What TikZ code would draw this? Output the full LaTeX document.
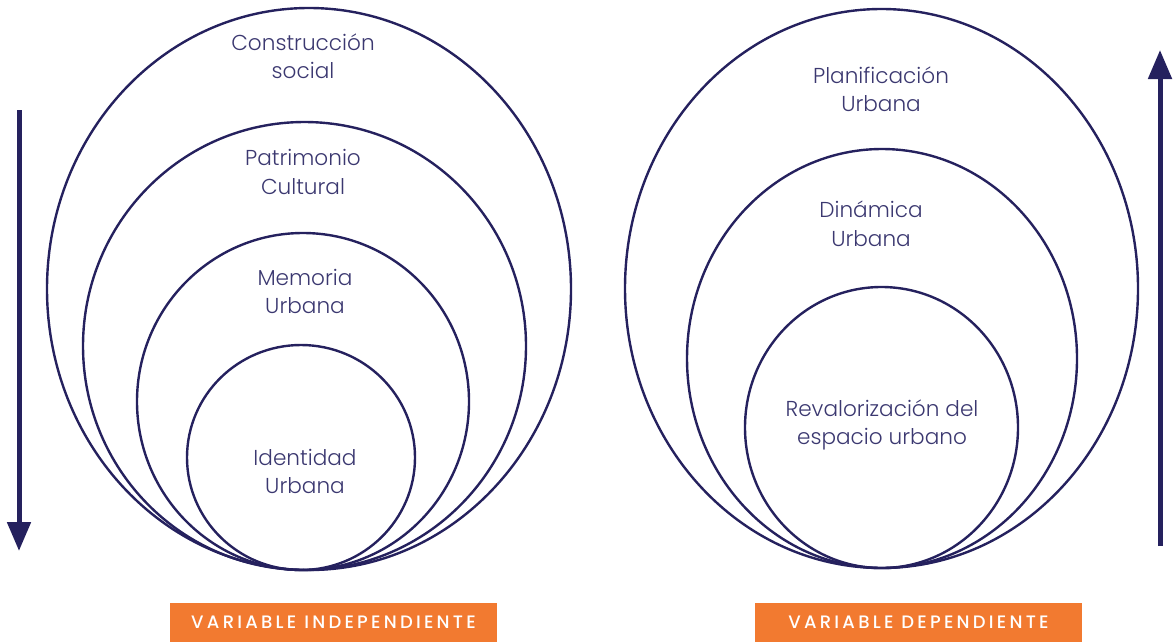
\documentclass[tikz,border=0pt]{standalone}
\usepackage{fontspec}
\IfFontExistsTF{Poppins Light}{\setmainfont{Poppins Light}}{\setmainfont{Poppins}}
\IfFontExistsTF{Poppins Medium}{\newfontfamily\labelfont[LetterSpace=18]{Poppins Medium}}{\newfontfamily\labelfont[LetterSpace=18]{Poppins}}
\usetikzlibrary{shapes.geometric,arrows.meta}
\definecolor{navy}{HTML}{25215E}
\definecolor{txt}{HTML}{3B3870}
\definecolor{orangebox}{HTML}{F27A30}
\tikzset{
  ring/.style={draw=navy, line width=2.4pt, ellipse, inner sep=0pt, minimum width=#1},
  lbl/.style={text=txt, font=\fontsize{21.6}{28.5}\selectfont, align=center, inner sep=0pt},
  varbox/.style={fill=orangebox, text=white, minimum width=327pt, minimum height=39pt, inner sep=0pt, font=\labelfont\fontsize{18}{20}\selectfont},
  bigarrow/.style={draw=navy, line width=5pt, -{Triangle[width=23pt,length=29pt]}}
}
\begin{document}
\begin{tikzpicture}[x=1pt,y=-1pt]
\useasboundingbox (0,0) rectangle (1174,643);
% left group
\node[ring=524pt, minimum height=562pt] (c1) at (309,289) {};
\node[ring=443pt, minimum height=448pt] (c2) at (304.5,346) {};
\node[ring=332pt, minimum height=337pt] (c3) at (303,401.5) {};
\node[ring=228pt, minimum height=225pt] (c4) at (301,457.5) {};
% right group
\node[ring=513pt, minimum height=559pt] (d1) at (881.5,288.5) {};
\node[ring=390pt, minimum height=419pt] (d2) at (882,358.5) {};
\node[ring=273pt, minimum height=281pt] (d3) at (881.5,427.5) {};
% labels
\node[lbl] (t1) at (303,56) {Construcción\\social};
\node[lbl] (t2) at (303,172) {Patrimonio\\Cultural};
\node[lbl] (t3) at (305,291.5) {Memoria\\Urbana};
\node[lbl] (t4) at (305,471.5) {Identidad\\Urbana};
\node[lbl] (u1) at (881,89) {Planificación\\Urbana};
\node[lbl] (u2) at (871,224) {Dinámica\\Urbana};
\node[lbl] (u3) at (882,425) {Revalorización del\\espacio urbano};
% variable boxes
\node[varbox] (v1) at (333.5,622.5) {VARIABLE INDEPENDIENTE};
\node[varbox] (v2) at (918.5,622.5) {VARIABLE DEPENDIENTE};
% arrows
\coordinate (a1s) at (19,110);
\coordinate (a1e) at (19,551);
\coordinate (a2s) at (1160,546);
\coordinate (a2e) at (1160,50);
\draw[bigarrow] (a1s) -- (a1e);
\draw[bigarrow] (a2s) -- (a2e);
\end{tikzpicture}
\end{document}
